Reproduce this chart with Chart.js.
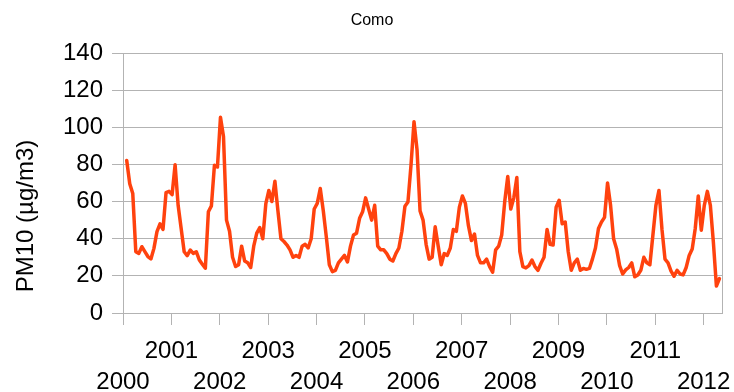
<!DOCTYPE html>
<html>
<head>
<meta charset="utf-8">
<script src="https://cdn.jsdelivr.net/npm/chart.js@4"></script>
<style>
  html, body { margin: 0; padding: 0; background: #fff; }
  #wrap { width: 734px; height: 392px; }
</style>
</head>
<body>
<div id="wrap"><canvas id="grafico" width="734" height="392"></canvas></div>
<script>
// ---- data ----
const chartTitle = "Como";
const yTitle = "PM10 (µg/m3)";
const years = [2000, 2001, 2002, 2003, 2004, 2005, 2006, 2007, 2008, 2009, 2010, 2011, 2012];
const firstSample = 2000.077;   // position of first sample, in years
const samplesPerYear = 16;
const pm10 = [
  82.1, 69.6, 64.3, 33, 32.1, 35.7, 33, 30.4, 29.1, 34.8, 43.8, 48, 45, 64.8, 65.5, 63.7,
  79.8, 58, 45.5, 33, 30.9, 33.9, 32.1, 33, 28.6, 26.3, 24.1, 54.5, 57.7, 79.5, 78.6, 105.4,
  95, 50, 44, 30, 25, 26, 36, 28, 27, 24.5, 36, 43, 46, 40, 58.9, 66,
  60, 71, 55, 40, 38.5, 36.6, 34, 30, 31, 30, 36, 37, 35, 40, 56, 59,
  67, 55, 41, 26, 22.3, 23, 27, 29, 31, 27.5, 36, 42, 43, 51, 54.5, 62,
  56, 50, 58, 36, 34, 34, 32, 29, 28, 32, 35, 44, 57.5, 59.8, 79.5, 103,
  88, 55, 50, 37, 29, 30, 46.4, 36, 26, 32, 31, 35, 45, 44, 57, 63,
  59, 47, 39, 42.5, 31, 27, 27, 29, 25, 22, 34, 36, 42, 60, 73.5, 56,
  62, 73, 33, 25, 24.3, 25.5, 28.5, 25, 23, 26.8, 30, 45, 37, 36.6, 57, 60.7,
  48, 49, 33, 23, 27, 29, 23, 24, 23.5, 24, 29, 35, 45.5, 49, 51.5, 70,
  58, 40, 34.5, 25.5, 21, 23.2, 24.5, 27, 19.5, 20.5, 23, 30, 27, 26, 42, 58,
  66, 45, 29, 27, 22.5, 19.8, 23, 21, 20.5, 24.5, 31, 34.5, 45.5, 63, 44.6, 58,
  65.5, 58, 38, 14.5, 18.5
];

// ---- styles ----
const fonte = "'Liberation Sans', Arial, sans-serif";
const corLinha = "#ff420e";
const corGrade = "#b3b3b3";
const corTexto = "#000000";

const pontos = pm10.map((v, i) => ({ x: firstSample + i / samplesPerYear, y: v }));

// title + rotated y-axis title
const textos = {
  id: "textos",
  afterDraw(chart) {
    const ctx = chart.ctx;
    ctx.save();
    ctx.fillStyle = corTexto;
    ctx.textAlign = "center";
    ctx.textBaseline = "middle";
    ctx.font = "16px " + fonte;
    ctx.fillText(chartTitle, 372, 21);
    ctx.translate(26, 216);
    ctx.rotate(-Math.PI / 2);
    ctx.font = "24px " + fonte;
    ctx.fillText(yTitle, 0, 0);
    ctx.restore();
  }
};

new Chart(document.getElementById("grafico"), {
  type: "line",
  data: {
    datasets: [{
      data: pontos,
      borderColor: corLinha,
      borderWidth: 3.5,
      borderJoinStyle: "round",
      borderCapStyle: "round",
      pointRadius: 0,
      tension: 0,
      fill: false
    }]
  },
  options: {
    responsive: false,
    animation: false,
    layout: { padding: { top: 53, left: 0, right: 0, bottom: 0 } },
    plugins: {
      legend: { display: false },
      title: { display: false },
      tooltip: { enabled: false }
    },
    scales: {
      x: {
        type: "linear",
        min: 2000,
        max: 2012.38,
        afterBuildTicks: s => { s.ticks = years.map(v => ({ value: v })); },
        afterFit: s => {
          s.height = 79;
          s.paddingLeft = 0;
          s.paddingRight = 0;
        },
        ticks: {
          autoSkip: false,
          maxRotation: 0,
          padding: 11,
          color: corTexto,
          font: { family: fonte, size: 24, lineHeight: 1.29 },
          callback: (v, i) => {
            const ano = String(years[i]);
            return years[i] % 2 === 1 ? ano : ["", ano];
          }
        },
        grid: { drawOnChartArea: false, tickLength: 12, color: corGrade },
        border: { color: corGrade }
      },
      y: {
        min: 0,
        max: 140,
        afterFit: s => { s.width = 123; },
        ticks: {
          stepSize: 10,
          padding: 9,
          color: corTexto,
          font: { family: fonte, size: 24 },
          callback: v => (v % 20 === 0 ? v : "")
        },
        grid: { color: corGrade, tickLength: 11 },
        border: { color: corGrade }
      },
      y2: {
        position: "right",
        min: 0,
        max: 140,
        afterFit: s => { s.width = 12; },
        ticks: { display: false },
        grid: { drawOnChartArea: false, drawTicks: false },
        border: { color: corGrade }
      }
    }
  },
  plugins: [textos]
});
</script>
</body>
</html>
